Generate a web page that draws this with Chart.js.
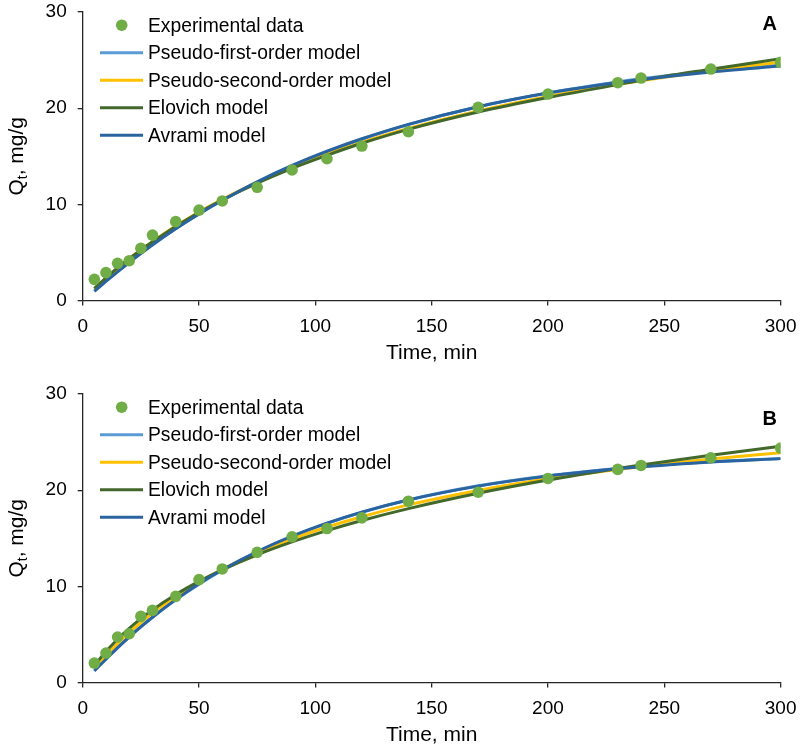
<!DOCTYPE html>
<html><head><meta charset="utf-8">
<script src="https://cdn.jsdelivr.net/npm/chart.js@4.4.1/dist/chart.umd.min.js"></script>
<style>
html,body{margin:0;padding:0;background:#fff;width:800px;height:748px;overflow:hidden}
#wrapA{position:absolute;left:0;top:0;width:800px;height:382px}
#wrapB{position:absolute;left:0;top:382px;width:800px;height:366px}
canvas{display:block}
</style></head><body>
<div id="wrapA"><canvas id="chartA" width="800" height="382"></canvas></div>
<div id="wrapB"><canvas id="chartB" width="800" height="366"></canvas></div>
<script>
// ---- data ----
const time = [5,10,15,20,25,30,40,50,60,75,90,105,120,140,170,200,230,240,270,300];
const seriesNames = ['Experimental data','Pseudo-first-order model','Pseudo-second-order model','Elovich model','Avrami model'];
const xTicks = [0,50,100,150,200,250,300];
const yTicks = [0,10,20,30];
const panelLetters = ['A','B'];

// Panel A
const expA = [2.2,2.9,3.87,4.14,5.43,6.8,8.2,9.4,10.35,11.77,13.57,14.74,16.06,17.55,20.08,21.47,22.65,23.13,24.07,24.77];
const pfoA = [1.07,2.11,3.10,4.05,4.96,5.84,7.49,9.00,10.40,12.30,13.98,15.46,16.77,18.29,20.14,21.59,22.73,23.05,23.86,24.50];
const psoA = [1.18,2.29,3.33,4.32,5.24,6.12,7.74,9.20,10.53,12.29,13.85,15.22,16.44,17.88,19.70,21.21,22.48,22.86,23.90,24.80];
const eloA = [1.25,2.35,3.40,4.35,5.25,6.10,7.70,9.15,10.45,12.20,13.75,15.10,16.35,17.80,19.60,21.10,22.45,22.90,24.05,25.15];
const avrA = [0.95,1.98,2.98,3.95,4.88,5.78,7.46,9.00,10.42,12.35,14.04,15.52,16.82,18.32,20.15,21.57,22.68,22.99,23.77,24.38];

// Panel B
const expB = [2.02,3.06,4.73,5.07,6.88,7.5,8.96,10.7,11.81,13.54,15.15,16.01,17.12,18.85,19.79,21.22,22.16,22.57,23.37,24.38];
const pfoB = [1.29,2.51,3.67,4.77,5.81,6.79,8.60,10.22,11.67,13.57,15.18,16.55,17.71,18.99,20.45,21.50,22.26,22.46,22.95,23.30];
const psoB = [1.48,2.82,4.06,5.19,6.24,7.21,8.94,10.45,11.78,13.49,14.93,16.17,17.24,18.47,19.97,21.18,22.16,22.46,23.24,23.90];
const eloB = [1.75,3.22,4.50,5.63,6.64,7.55,9.15,10.52,11.72,13.28,14.62,15.79,16.84,18.08,19.68,21.05,22.25,22.62,23.64,24.57];
const avrB = [1.20,2.42,3.60,4.72,5.78,6.78,8.62,10.26,11.72,13.62,15.22,16.57,17.72,18.98,20.42,21.46,22.22,22.43,22.94,23.28];

// ---- styling ----
const FAMILY = '"Liberation Sans", Arial, Helvetica, sans-serif';
const COLORS = ['#70AD47','#5B9BD5','#FFC000','#43682B','#2A64A0'];
const AXIS = '#262626';

const overlay = {
  id: 'overlay',
  afterDraw(chart, args, opts) {
    const ctx = chart.ctx, ca = chart.chartArea;
    ctx.save();
    // legend inside plot
    ctx.font = '19.3px ' + FAMILY;
    ctx.textBaseline = 'middle';
    ctx.textAlign = 'left';
    chart.data.datasets.forEach((ds, i) => {
      const y = ca.top + 13.2 + i * 27.5;
      if (i === 0) {
        ctx.fillStyle = ds.backgroundColor;
        ctx.beginPath(); ctx.arc(121.7, y, 5.8, 0, Math.PI * 2); ctx.fill();
      } else {
        ctx.strokeStyle = ds.borderColor; ctx.lineWidth = 3;
        ctx.beginPath(); ctx.moveTo(100, y); ctx.lineTo(143, y); ctx.stroke();
      }
      ctx.fillStyle = '#000';
      ctx.fillText(ds.label, 148, y + 1);
    });
    // panel letter
    ctx.font = 'bold 20px ' + FAMILY;
    ctx.textAlign = 'right';
    ctx.fillText(opts.letter, 777, opts.letterY);
    // y axis title with subscript
    const cy = (ca.top + ca.bottom) / 2;
    ctx.translate(23, cy);
    ctx.rotate(-Math.PI / 2);
    const f1 = '21px ' + FAMILY, f2 = '14px ' + FAMILY;
    ctx.font = f1; const wQ = ctx.measureText('Q').width; const wR = ctx.measureText(', mg/g').width;
    ctx.font = f2; const wt = ctx.measureText('t').width;
    let x0 = -(wQ + wt + wR) / 2;
    ctx.textAlign = 'left'; ctx.textBaseline = 'alphabetic';
    ctx.font = f1; ctx.fillText('Q', x0, 0); x0 += wQ;
    ctx.font = f2; ctx.fillText('t', x0, 4); x0 += wt;
    ctx.font = f1; ctx.fillText(', mg/g', x0, 0);
    ctx.restore();
  }
};

function makeChart(id, series, letter, letterY, xHeight, xTitlePad) {
  const pts = arr => time.map((t, i) => ({ x: t, y: arr[i] }));
  const datasets = series.map((arr, i) => {
    if (i === 0) {
      return { label: seriesNames[0], data: pts(arr), showLine: false, pointRadius: 5.8,
               pointBorderWidth: 0, backgroundColor: COLORS[0], borderColor: COLORS[0], order: 0 };
    }
    return { label: seriesNames[i], data: pts(arr), showLine: true, pointRadius: 0,
             borderColor: COLORS[i], backgroundColor: COLORS[i], borderWidth: 3,
             cubicInterpolationMode: 'monotone', fill: false, order: 5 - i };
  });
  const tickFont = { size: 19, family: FAMILY };
  return new Chart(document.getElementById(id), {
    type: 'scatter',
    data: { datasets },
    plugins: [overlay],
    options: {
      responsive: false, animation: false, devicePixelRatio: 1,
      layout: { padding: { left: 0, right: 19.4, top: 12, bottom: 0 } },
      plugins: { legend: { display: false }, tooltip: { enabled: false }, overlay: { letter, letterY } },
      scales: {
        x: {
          type: 'linear', min: 0, max: 300,
          afterBuildTicks: s => { s.ticks = xTicks.map(v => ({ value: v })); },
          afterFit: s => { s.height = xHeight; s.paddingLeft = 0; s.paddingRight = 0; },
          ticks: { font: tickFont, color: '#000', padding: 9.5, maxRotation: 0 },
          grid: { display: true, drawOnChartArea: false, drawTicks: true, tickLength: 5, color: AXIS, lineWidth: 1.3 },
          border: { display: true, color: AXIS, width: 1.3 },
          title: { display: true, text: 'Time, min', font: { size: 21, family: FAMILY }, color: '#000', padding: { top: 0, bottom: xTitlePad } }
        },
        y: {
          type: 'linear', min: 0, max: 30,
          afterBuildTicks: s => { s.ticks = yTicks.map(v => ({ value: v })); },
          afterFit: s => { s.width = 82.7; s.paddingTop = 0; s.paddingBottom = 0; },
          ticks: { font: tickFont, color: '#000', padding: 11 },
          grid: { display: true, drawOnChartArea: false, drawTicks: true, tickLength: 5, color: AXIS, lineWidth: 1.3 },
          border: { display: true, color: AXIS, width: 1.3 },
          title: { display: false }
        }
      }
    }
  });
}

makeChart('chartA', [expA, pfoA, psoA, eloA, avrA], panelLetters[0], 24.5, 81.5, 16);
makeChart('chartB', [expB, pfoB, psoB, eloB, avrB], panelLetters[1], 37.5, 65.5, 0.5);
</script>
</body></html>
